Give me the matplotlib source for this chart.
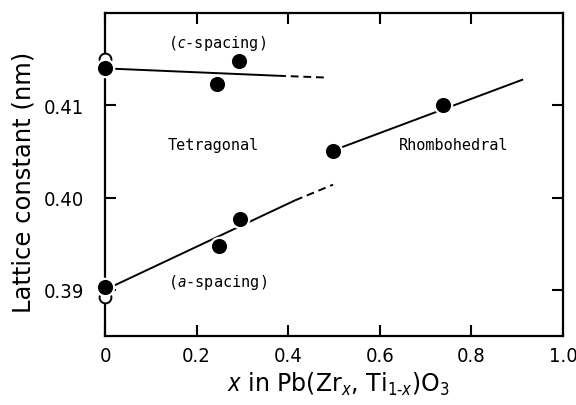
import matplotlib
matplotlib.use('Agg')
import matplotlib.pyplot as plt

plt.rcParams['font.family'] = ['DejaVu Sans']
plt.rcParams['font.stretch'] = 'condensed'
plt.rcParams['mathtext.fontset'] = 'custom'
plt.rcParams['mathtext.it'] = 'DejaVu Sans:italic'
plt.rcParams['mathtext.rm'] = 'DejaVu Sans'

# measured points, x in Pb(Zr_x, Ti_1-x)O3 vs lattice constant (nm)
c_x = [0.0, 0.245, 0.293]
c_y = [0.4140, 0.4123, 0.4148]
a_x = [0.0, 0.249, 0.295]
a_y = [0.3903, 0.3947, 0.3977]
r_x = [0.498, 0.738]
r_y = [0.4051, 0.4100]
open_x = [0.0, 0.0]
open_y = [0.4150, 0.3892]

# fitted lines (solid part / dashed extrapolation)
c_fit_x = [0.0, 0.378]
c_fit_y = [0.4140, 0.4132]
c_ext_x = [0.378, 0.485]
c_ext_y = [0.4132, 0.4130]
a_fit_x = [0.0, 0.415]
a_fit_y = [0.3900, 0.3997]
a_ext_x = [0.415, 0.498]
a_ext_y = [0.3997, 0.4014]
r_fit_x = [0.498, 0.913]
r_fit_y = [0.4051, 0.4128]

xticks = [0, 0.2, 0.4, 0.6, 0.8, 1.0]
xticklabels = ['0', '0.2', '0.4', '0.6', '0.8', '1.0']
yticks = [0.39, 0.40, 0.41]
yticklabels = ['0.39', '0.40', '0.41']

fig = plt.figure(figsize=(5.76, 4.06), dpi=100)
ax = fig.add_axes([0.1823, 0.170, 0.7951, 0.7955])

lw = 1.4
ax.plot(c_fit_x, c_fit_y, color='black', lw=lw, solid_capstyle='butt')
ax.plot(c_ext_x, c_ext_y, color='black', lw=lw, dashes=(4, 2.5))
ax.plot(a_fit_x, a_fit_y, color='black', lw=lw, solid_capstyle='butt')
ax.plot(a_ext_x, a_ext_y, color='black', lw=lw, dashes=(4, 2.5))
ax.plot(r_fit_x, r_fit_y, color='black', lw=lw, solid_capstyle='butt')

ax.plot(open_x, open_y, 'o', ms=8.5, mfc='white', mec='black', mew=1.4,
        clip_on=False, zorder=4)
for xs, ys in [(c_x, c_y), (a_x, a_y), (r_x, r_y)]:
    ax.plot(xs, ys, 'o', ms=12.5, mfc='black', mec='white', mew=1.6,
            clip_on=False, zorder=5)

ax.set_xlim(0, 1.0)
ax.set_ylim(0.385, 0.42)
ax.set_xticks(xticks)
ax.set_xticklabels(xticklabels)
ax.set_yticks(yticks)
ax.set_yticklabels(yticklabels)
ax.tick_params(direction='in', length=8, width=1.5, top=True, right=True,
               labelsize=14.5)
ax.tick_params(axis='x', pad=7)
ax.tick_params(axis='y', pad=15)
for s in ax.spines.values():
    s.set_linewidth(1.6)

ax.set_xlabel(r'$x$ in Pb(Zr$_{x}$, Ti$_{1\text{-}x}$)O$_{3}$', fontsize=17,
              fontstretch='normal')
ax.set_ylabel('Lattice constant (nm)', fontsize=17.5, fontstretch='normal')
ax.xaxis.set_label_coords(0.51, -0.105)
ax.yaxis.set_label_coords(-0.152, 0.48)

mono = 'DejaVu Sans Mono'
ax.text(0.245, 0.4168, r'($c$-spacing)', family=mono, fontsize=11, ha='center', va='center')
ax.text(0.236, 0.4058, 'Tetragonal', family=mono, fontsize=11, ha='center', va='center')
ax.text(0.762, 0.4058, 'Rhombohedral', family=mono, fontsize=11, ha='center', va='center')
ax.text(0.246, 0.3909, r'($a$-spacing)', family=mono, fontsize=11, ha='center', va='center')

fig.savefig('out.png', dpi=100)
